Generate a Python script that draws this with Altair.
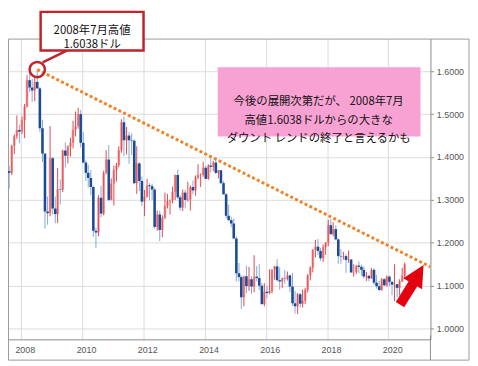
import altair as alt
import pandas as pd

# ---------------- data (EUR/USD monthly) ----------------
start_month = "2007-08"

opens = [
    1.3670, 1.3630, 1.4260, 1.4480, 1.4630,
    1.4590, 1.4860, 1.5180, 1.5790, 1.5620, 1.5550, 1.5750, 1.5600, 1.4670, 1.4080, 1.2730, 1.2690,
    1.3970, 1.2800, 1.2670, 1.3250, 1.3240, 1.4150, 1.4030, 1.4250, 1.4330, 1.4640, 1.4720, 1.5000,
    1.4330, 1.3870, 1.3630, 1.3510, 1.3300, 1.2280, 1.2240, 1.3050, 1.2680, 1.3630, 1.3940, 1.3000,
    1.3380, 1.3700, 1.3810, 1.4160, 1.4810, 1.4390, 1.4500, 1.4390, 1.4380, 1.3390, 1.3850, 1.3440,
    1.2960, 1.3080, 1.3340, 1.3320, 1.3240, 1.2370, 1.2660, 1.2300, 1.2580, 1.2860, 1.2970, 1.2990,
    1.3190, 1.3580, 1.3060, 1.2820, 1.3170, 1.3000, 1.3010, 1.3300, 1.3220, 1.3520, 1.3580, 1.3590,
    1.3750, 1.3490, 1.3800, 1.3770, 1.3870, 1.3630, 1.3690, 1.3390, 1.3130, 1.2630, 1.2530, 1.2450,
    1.2100, 1.1290, 1.1200, 1.0730, 1.1220, 1.0990, 1.1150, 1.0980, 1.1210, 1.1180, 1.1000, 1.0570,
    1.0860, 1.0830, 1.0870, 1.1380, 1.1450, 1.1130, 1.1100, 1.1170, 1.1160, 1.1240, 1.0980, 1.0590,
    1.0520, 1.0800, 1.0580, 1.0650, 1.0900, 1.1240, 1.1420, 1.1840, 1.1910, 1.1810, 1.1640, 1.1900,
    1.2000, 1.2410, 1.2200, 1.2320, 1.2080, 1.1690, 1.1680, 1.1690, 1.1600, 1.1610, 1.1310, 1.1320,
    1.1470, 1.1440, 1.1370, 1.1215, 1.1230, 1.1170, 1.1370, 1.1070, 1.0990, 1.0900, 1.1150, 1.1010,
    1.1210, 1.1090, 1.1025, 1.1035, 1.0950, 1.1100, 1.1230,
]
highs = [
    1.3797, 1.4283, 1.4528, 1.4967, 1.4750,
    1.4945, 1.5238, 1.5905, 1.6020, 1.5820, 1.5850, 1.6038, 1.5630, 1.4867, 1.4090, 1.3080, 1.4720,
    1.4000, 1.3080, 1.3740, 1.3480, 1.4170, 1.4340, 1.4270, 1.4450, 1.4845, 1.5060, 1.5144, 1.5100,
    1.4580, 1.3920, 1.3820, 1.3690, 1.3330, 1.2350, 1.3110, 1.3330, 1.3680, 1.4160, 1.4280, 1.3500,
    1.3800, 1.3860, 1.4250, 1.4880, 1.4940, 1.4700, 1.4580, 1.4550, 1.4410, 1.4250, 1.3880, 1.3550,
    1.3230, 1.3490, 1.3390, 1.3380, 1.3280, 1.2750, 1.2750, 1.2640, 1.3170, 1.3140, 1.3010, 1.3310,
    1.3590, 1.3710, 1.3110, 1.3240, 1.3240, 1.3420, 1.3340, 1.3450, 1.3570, 1.3830, 1.3620, 1.3890,
    1.3790, 1.3830, 1.3970, 1.3910, 1.3990, 1.3700, 1.3700, 1.3440, 1.3160, 1.2890, 1.2610, 1.2570,
    1.2150, 1.1530, 1.1240, 1.1230, 1.1470, 1.1440, 1.1220, 1.1710, 1.1460, 1.1500, 1.1060, 1.1060,
    1.1000, 1.1380, 1.1380, 1.1460, 1.1620, 1.1430, 1.1190, 1.1370, 1.1330, 1.1260, 1.1300, 1.0880,
    1.0830, 1.0830, 1.0910, 1.0950, 1.1270, 1.1450, 1.1850, 1.2070, 1.2090, 1.1880, 1.1960, 1.2020,
    1.2540, 1.2560, 1.2480, 1.2410, 1.2100, 1.1850, 1.1790, 1.1740, 1.1820, 1.1620, 1.1500, 1.1480,
    1.1570, 1.1490, 1.1450, 1.1320, 1.1260, 1.1410, 1.1410, 1.1250, 1.1110, 1.1180, 1.1180, 1.1240,
    1.1240, 1.1100, 1.1500, 1.1040, 1.1150, 1.1420, 1.1540,
]
lows = [
    1.3262, 1.3580, 1.4070, 1.4420, 1.4320,
    1.4530, 1.4440, 1.5150, 1.5520, 1.5285, 1.5300, 1.5590, 1.4580, 1.3880, 1.2330, 1.2420, 1.2620,
    1.2660, 1.2455, 1.2460, 1.2890, 1.3180, 1.3750, 1.3850, 1.4010, 1.4200, 1.4480, 1.4660, 1.4220,
    1.3860, 1.3440, 1.3290, 1.3110, 1.2140, 1.1876, 1.2150, 1.2590, 1.2640, 1.3600, 1.2970, 1.2990,
    1.2870, 1.3430, 1.3760, 1.4100, 1.4020, 1.4060, 1.3840, 1.4050, 1.3360, 1.3140, 1.3210, 1.2860,
    1.2620, 1.3050, 1.3000, 1.3000, 1.2340, 1.2280, 1.2040, 1.2130, 1.2550, 1.2800, 1.2660, 1.2920,
    1.3000, 1.3020, 1.2750, 1.2740, 1.2800, 1.2960, 1.2750, 1.3130, 1.3100, 1.3480, 1.3300, 1.3540,
    1.3480, 1.3470, 1.3640, 1.3670, 1.3600, 1.3500, 1.3370, 1.3130, 1.2570, 1.2500, 1.2360, 1.2100,
    1.1100, 1.1100, 1.0460, 1.0520, 1.0820, 1.0880, 1.0810, 1.0850, 1.1100, 1.0900, 1.0560, 1.0520,
    1.0710, 1.0800, 1.0820, 1.1140, 1.1100, 1.0910, 1.0950, 1.1050, 1.1120, 1.0850, 1.0530, 1.0350,
    1.0340, 1.0490, 1.0490, 1.0570, 1.0840, 1.1120, 1.1310, 1.1660, 1.1720, 1.1580, 1.1550, 1.1720,
    1.1920, 1.2200, 1.2150, 1.2060, 1.1510, 1.1510, 1.1610, 1.1300, 1.1530, 1.1300, 1.1210, 1.1270,
    1.1290, 1.1230, 1.1170, 1.1110, 1.1100, 1.1160, 1.1020, 1.0930, 1.0880, 1.0880, 1.0990, 1.0980,
    1.0990, 1.0780, 1.0640, 1.0730, 1.0770, 1.1080, 1.1170,
]
closes = [
    1.3630, 1.4260, 1.4480, 1.4630, 1.4590,
    1.4860, 1.5180, 1.5790, 1.5620, 1.5550, 1.5750, 1.5600, 1.4670, 1.4080, 1.2730, 1.2690, 1.3970,
    1.2800, 1.2670, 1.3250, 1.3240, 1.4150, 1.4030, 1.4250, 1.4330, 1.4640, 1.4720, 1.5000, 1.4330,
    1.3870, 1.3630, 1.3510, 1.3300, 1.2280, 1.2240, 1.3050, 1.2680, 1.3630, 1.3940, 1.3000, 1.3380,
    1.3700, 1.3810, 1.4160, 1.4810, 1.4390, 1.4500, 1.4390, 1.4380, 1.3390, 1.3850, 1.3440, 1.2960,
    1.3080, 1.3340, 1.3320, 1.3240, 1.2370, 1.2660, 1.2300, 1.2580, 1.2860, 1.2970, 1.2990, 1.3190,
    1.3580, 1.3060, 1.2820, 1.3170, 1.3000, 1.3010, 1.3300, 1.3220, 1.3520, 1.3580, 1.3590, 1.3750,
    1.3490, 1.3800, 1.3770, 1.3870, 1.3630, 1.3690, 1.3390, 1.3130, 1.2630, 1.2530, 1.2450, 1.2100,
    1.1290, 1.1200, 1.0730, 1.1220, 1.0990, 1.1150, 1.0980, 1.1210, 1.1180, 1.1000, 1.0570, 1.0860,
    1.0830, 1.0870, 1.1380, 1.1450, 1.1130, 1.1100, 1.1170, 1.1160, 1.1240, 1.0980, 1.0590, 1.0520,
    1.0800, 1.0580, 1.0650, 1.0900, 1.1240, 1.1420, 1.1840, 1.1910, 1.1810, 1.1640, 1.1900, 1.2000,
    1.2410, 1.2200, 1.2320, 1.2080, 1.1690, 1.1680, 1.1690, 1.1600, 1.1610, 1.1310, 1.1320, 1.1470,
    1.1440, 1.1370, 1.1215, 1.1230, 1.1170, 1.1370, 1.1070, 1.0990, 1.0900, 1.1150, 1.1010, 1.1210,
    1.1090, 1.1025, 1.1035, 1.0950, 1.1100, 1.1230, 1.1500,
]

year_ticks = [2008, 2010, 2012, 2014, 2016, 2018, 2020]
price_ticks = [1.0, 1.1, 1.2, 1.3, 1.4, 1.5, 1.6]

trend_dates = ["2008-07-15", "2021-05-18"]
trend_values = [1.6038, 1.144]

peak_date = ["2008-07-15"]
peak_value = [1.6038]

arrow_dates = ["2020-05-20", "2020-11-01"]
arrow_values = [1.056, 1.108]
arrow_head_date = ["2020-12-22"]
arrow_head_value = [1.1265]

box_lines = ["2008年7月高値", "1.6038ドル"]
note_lines = ["今後の展開次第だが、 2008年7月", "高値1.6038ドルからの大きな", "ダウント レンドの終了と言えるかも"]

# ---------------- tables ----------------
n = len(opens)
assert len(highs) == n and len(lows) == n and len(closes) == n
dates = pd.date_range(start_month + "-01", periods=n, freq="MS") + pd.Timedelta(days=14)
df = pd.DataFrame({
    "date": dates.strftime("%Y-%m-%d"),
    "open": opens, "high": highs, "low": lows, "close": closes,
})
df["dir"] = ["up" if c >= o else "down" for o, c in zip(opens, closes)]

trend_df = pd.DataFrame({"date": trend_dates, "value": trend_values})
peak_df = pd.DataFrame({"date": peak_date, "value": peak_value})
arrow_df = pd.DataFrame({"date": [arrow_dates[0]], "date2": [arrow_dates[1]],
                         "value": [arrow_values[0]], "value2": [arrow_values[1]]})
head_df = pd.DataFrame({"date": arrow_head_date, "value": arrow_head_value})
box_df = pd.DataFrame({"text": ["\n".join(box_lines)]})
note_df = pd.DataFrame({"text": ["\n".join(note_lines)]})

# ---------------- scales / axes ----------------
W, H = 427, 304
AXIS_FONT = "Liberation Sans"
x_scale = alt.Scale(domain=[alt.DateTime(year=2007, month=8, date=1),
                            alt.DateTime(year=2021, month=5, date=18)])
y_scale = alt.Scale(domain=[0.975, 1.676], nice=False, zero=False)

x_axis = alt.Axis(values=[alt.DateTime(year=y, month=1, date=1) for y in year_ticks],
                  format="%Y", title=None, grid=True, gridColor="#dcdcdc", ticks=False,
                  domainColor="#8a8a8a", labelFont=AXIS_FONT, labelFontSize=9,
                  labelColor="#555555", labelPadding=6, labelOffset=4, labelFlush=False,
                  labelAngle=0)
y_axis = alt.Axis(orient="right", values=price_ticks, format=".4f", title=None, grid=True,
                  gridColor="#dcdcdc", tickSize=3, tickColor="#8a8a8a", domainColor="#8a8a8a",
                  labelFont=AXIS_FONT, labelFontSize=9, labelColor="#555555", labelPadding=3)


def X(field="date"):
    return alt.X(f"{field}:T", scale=x_scale, axis=x_axis)


def Y(field):
    return alt.Y(f"{field}:Q", scale=y_scale, axis=y_axis)


RED = "#c0232c"
ARROW = "#e3000f"

# frame
frame = alt.Chart(box_df).mark_rect(fill="white", fillOpacity=0, stroke="#9a9a9a",
                                    strokeWidth=1).encode(
    x=alt.value(0.5), x2=alt.value(466), y=alt.value(0.5), y2=alt.value(325))
axis_ext = alt.Chart(box_df).mark_rule(color="#8a8a8a", strokeWidth=1).encode(
    x=alt.value(427), y=alt.value(300), y2=alt.value(325))

base = alt.Chart(df)
up_body = base.transform_filter(alt.datum.dir == "up").mark_rule(
    strokeWidth=2.6, color="#f4a0a3").encode(x=X(), y=Y("open"), y2="close")
wicks = base.mark_rule(strokeWidth=1).encode(
    x=X(), y=Y("low"), y2="high",
    color=alt.Color("dir:N", scale=alt.Scale(domain=["up", "down"],
                                             range=["#e2484e", "#86a9d6"]), legend=None))
down_body = base.transform_filter(alt.datum.dir == "down").mark_rule(
    strokeWidth=2.6, color="#1c4b96").encode(x=X(), y=Y("open"), y2="close")

trend = alt.Chart(trend_df).mark_line(strokeDash=[3, 2.4], strokeWidth=3, color="#f0832a",
                                      clip=True).encode(x=X(), y=Y("value"))

circle = alt.Chart(peak_df).mark_point(shape="circle", size=240, filled=False, strokeWidth=2.5,
                                       color=RED, opacity=1).encode(x=X(), y=Y("value"))
connector = alt.Chart(box_df).mark_rule(color=RED, strokeWidth=2.5).encode(
    x=alt.value(35), y=alt.value(24), x2=alt.value(62), y2=alt.value(11))
box = alt.Chart(box_df).mark_rect(fill="white", stroke=RED, strokeWidth=2.5).encode(
    x=alt.value(33), x2=alt.value(137), y=alt.value(-27), y2=alt.value(12))
box_text = alt.Chart(box_df).mark_text(lineBreak="\n", lineHeight=15, fontSize=11.5,
                                       font="Noto Sans CJK JP", color="#111111",
                                       align="center", baseline="middle").encode(
    x=alt.value(85), y=alt.value(-8), text="text:N")

note = alt.Chart(note_df).mark_rect(fill="#f8a2d4").encode(
    x=alt.value(212), x2=alt.value(417), y=alt.value(29), y2=alt.value(99))
note_text = alt.Chart(note_df).mark_text(lineBreak="\n", lineHeight=19, fontSize=11.5,
                                         font="Noto Sans CJK JP", color="#111111",
                                         align="center", baseline="middle").encode(
    x=alt.value(314), y=alt.value(64), text="text:N")

shaft = alt.Chart(arrow_df).mark_rule(strokeWidth=10, color=ARROW, strokeCap="butt").encode(
    x=X(), y=Y("value"), x2="date2:T", y2="value2:Q")
head = alt.Chart(head_df).mark_point(shape="M0,-1L1,1L-1,1Z", size=484, filled=True,
                                     color=ARROW, opacity=1, angle=30).encode(
    x=X(), y=Y("value"))

chart = alt.layer(
    frame, axis_ext, up_body, wicks, down_body, trend, circle, connector, box, box_text,
    note, note_text, shaft, head
).properties(
    width=W, height=H,
    autosize=alt.AutoSizeParams(type="none"),
    padding={"left": 0, "top": 29, "right": 40, "bottom": 22},
).configure_view(strokeWidth=0)

chart.save("out.html", embed_options={"renderer": "svg", "actions": False})
